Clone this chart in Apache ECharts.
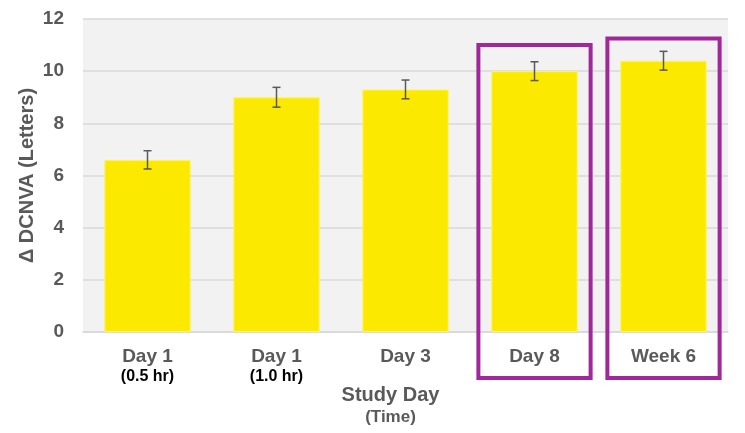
<!DOCTYPE html>
<html>
<head>
<meta charset="utf-8">
<script src="https://cdn.jsdelivr.net/npm/echarts@6/dist/echarts.min.js"></script>
<style>html,body{margin:0;padding:0;background:#fff}#c{width:745px;height:433px}</style>
</head>
<body>
<div id="c"></div>
<script>
const categories = ['Day 1\n{sub|(0.5 hr)}', 'Day 1\n{sub|(1.0 hr)}', 'Day 3', 'Day 8', 'Week 6'];
const values = [6.6, 9.0, 9.3, 10.0, 10.4];
const errors = [0.35, 0.38, 0.36, 0.36, 0.36];
const yTicks = [0, 2, 4, 6, 8, 10, 12];
const highlighted = [3, 4];
const highlightTop = [11.0, 11.25];

const chart = echarts.init(document.getElementById('c'), null, {renderer: 'canvas'});
const font = 'Liberation Sans, Arial, sans-serif';
const gray = '#595959';

chart.setOption({
  backgroundColor: '#ffffff',
  animation: false,
  grid: {left: 83, right: 17, top: 19, bottom: 101, show: true, backgroundColor: '#F2F2F2', borderWidth: 0,
         containLabel: false, outerBoundsMode: 'none'},
  xAxis: {
    type: 'category',
    data: categories,
    axisLine: {show: true, lineStyle: {color: '#D9D9D9', width: 1.5}},
    axisTick: {show: false},
    axisLabel: {
      interval: 0, hideOverlap: false,
      margin: 15, color: gray, fontFamily: font, fontWeight: 'bold', fontSize: 19, lineHeight: 20,
      rich: {sub: {color: '#000', fontFamily: font, fontWeight: 'bold', fontSize: 16, lineHeight: 19}}
    },
    name: '{a|Study Day}\n{b|(Time)}',
    nameLocation: 'middle',
    nameGap: 52,
    nameMoveOverlap: false,
    nameTextStyle: {
      padding: [0, 30, 0, 0],
      rich: {
        a: {color: gray, fontFamily: font, fontWeight: 'bold', fontSize: 20, lineHeight: 22},
        b: {color: gray, fontFamily: font, fontWeight: 'bold', fontSize: 17, lineHeight: 23}
      }
    }
  },
  yAxis: {
    type: 'value', min: 0, max: 12, interval: 2,
    axisLine: {show: false}, axisTick: {show: false},
    splitLine: {lineStyle: {color: '#D9D9D9', width: 1.5}},
    axisLabel: {
      margin: 19, color: gray, fontFamily: font, fontWeight: 'bold', fontSize: 19,
      formatter: v => yTicks.includes(v) ? String(v) : ''
    },
    name: 'Δ DCNVA (Letters)',
    nameLocation: 'middle',
    nameGap: 46,
    nameMoveOverlap: false,
    nameTextStyle: {color: gray, fontFamily: font, fontWeight: 'bold', fontSize: 20}
  },
  series: [
    {
      type: 'bar', data: values, barWidth: '67%',
      itemStyle: {color: '#FCE900', borderColor: '#FFF36A', borderWidth: 1}
    },
    {
      type: 'custom',
      data: values.map((v, i) => [i, v - errors[i], v + errors[i]]),
      z: 5,
      renderItem: function (params, api) {
        const lo = api.coord([api.value(0), api.value(1)]);
        const hi = api.coord([api.value(0), api.value(2)]);
        const w = 4;
        const st = {stroke: gray, lineWidth: 1.5};
        return {type: 'group', children: [
          {type: 'line', shape: {x1: lo[0], y1: lo[1], x2: hi[0], y2: hi[1]}, style: st},
          {type: 'line', shape: {x1: lo[0] - w, y1: lo[1], x2: lo[0] + w, y2: lo[1]}, style: st},
          {type: 'line', shape: {x1: hi[0] - w, y1: hi[1], x2: hi[0] + w, y2: hi[1]}, style: st}
        ]};
      }
    }
  ]
});

function drawBoxes() {
  const p0 = chart.convertToPixel({gridIndex: 0}, [0, 0]);
  const p1 = chart.convertToPixel({gridIndex: 0}, [1, 0]);
  const band = p1[0] - p0[0];
  const halfW = band * 0.435;
  const bottom = p0[1] + 46;
  const els = highlighted.map((idx, k) => {
    const c = chart.convertToPixel({gridIndex: 0}, [idx, highlightTop[k]]);
    return {
      type: 'rect', z: 100,
      shape: {x: c[0] - halfW, y: c[1], width: halfW * 2, height: bottom - c[1]},
      style: {fill: 'none', stroke: '#A0289A', lineWidth: 4}
    };
  });
  chart.setOption({graphic: els});
}
drawBoxes();
</script>
</body>
</html>
